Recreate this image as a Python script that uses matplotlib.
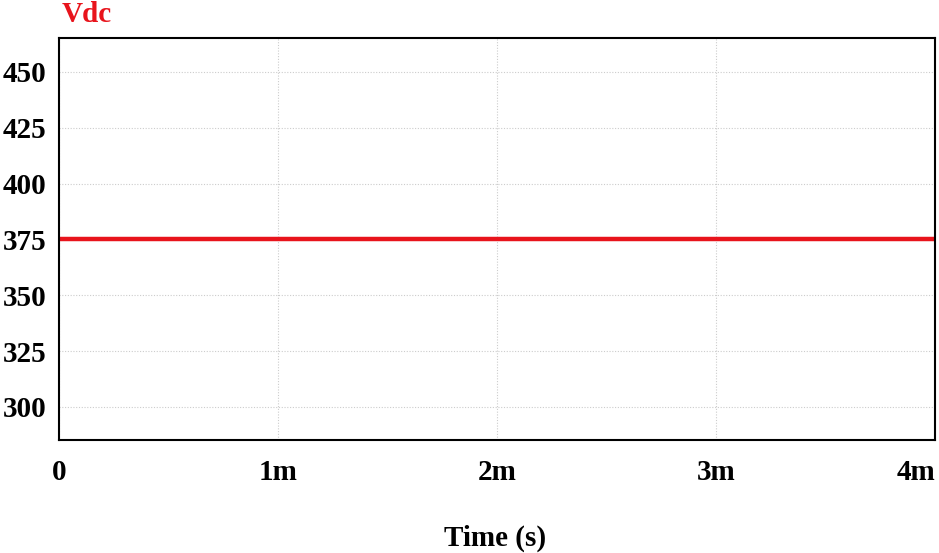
import matplotlib.pyplot as plt
import numpy as np

# data
t_ms = [0.0, 4.0]
vdc = [375.0, 375.0]
x_ticks = [0, 1, 2, 3, 4]
x_labels = ['0', '1m', '2m', '3m', '4m']
y_ticks = [300, 325, 350, 375, 400, 425, 450]

plt.rcParams['font.family'] = ['Liberation Serif', 'DejaVu Serif']
plt.rcParams['font.weight'] = 'bold'

fig = plt.figure(figsize=(9.39, 5.53), dpi=100)
ax = fig.add_axes([59/939, 1 - 440/553, (935-59)/939, (440-38)/553])

ax.plot(t_ms, vdc, color='#e8141c', lw=3.2, solid_capstyle='butt')

ax.set_xlim(0, 4)
ax.set_ylim(285.2, 465.2)
ax.set_xticks(x_ticks)
ax.set_xticklabels(x_labels)
ax.set_yticks(y_ticks)
ax.tick_params(length=0, labelsize=21)
ax.tick_params(axis='y', pad=9)
ax.tick_params(axis='x', pad=14)
ax.get_xticklabels()[-1].set_ha('right')
ax.grid(True, color='#cccccc', linestyle=(0, (1, 1.5)), lw=0.8)
for s in ax.spines.values():
    s.set_linewidth(1.5)

# x label placed in figure coords (sits far below the ticks)
fig.text(495/939, 1 - 538/553, 'Time (s)', fontsize=21, fontweight='bold',
         ha='center', va='center')
fig.text(62/939, 1 - 15/553, 'Vdc', color='#e8141c', fontsize=21,
         fontweight='bold', va='center', ha='left')

fig.savefig('out.png', dpi=100)
